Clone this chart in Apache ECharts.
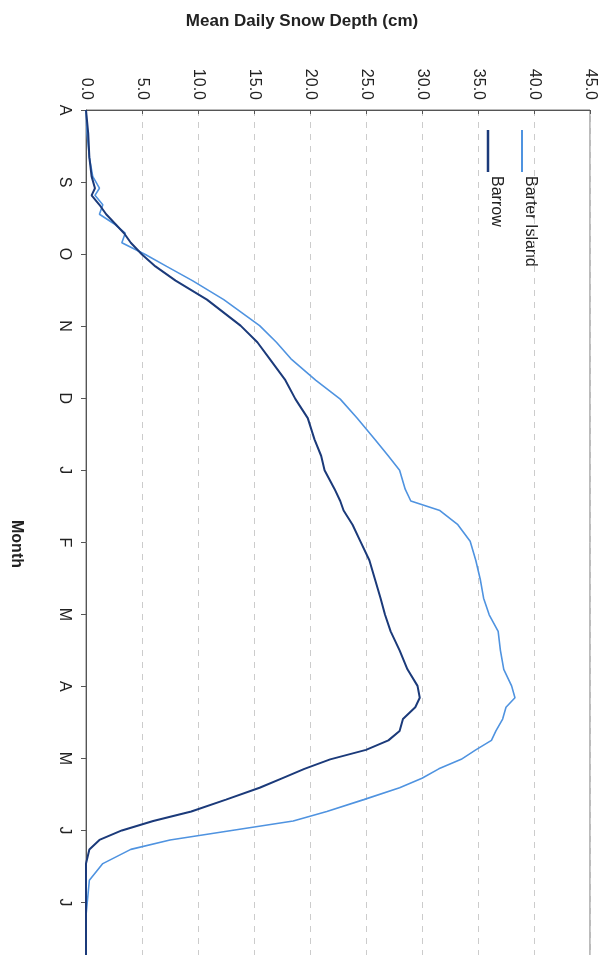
<!DOCTYPE html>
<html><head><meta charset="utf-8">
<script src="https://cdn.jsdelivr.net/npm/echarts@6/dist/echarts.min.js"></script>
<style>html,body{margin:0;padding:0;background:#fff;overflow:hidden;height:955px}#c{width:604px;height:1000px}</style>
</head><body><div id="c"></div>
<script>
const months = ['A','S','O','N','D','J','F','M','A','M','J','J'];
const valueTicks = ['0.0','5.0','10.0','15.0','20.0','25.0','30.0','35.0','40.0','45.0'];
// day of season (from Aug 1) , depth cm
const days = [0,10,20,28,33,36,40,44,48,52,56,61,66,72,80,91,98,105,114,122,130,139,146,152,160,165,169,175,182,190,198,206,213,220,228,236,243,248,252,257,262,266,270,274,278,282,286,291,296,300,304,308,312,318,325,340,365];
const barterIsland = [0,0.1,0.3,0.6,1.2,0.8,1.5,1.2,2.5,3.5,3.2,5.3,7.2,9.5,12.3,15.5,17,18.3,20.5,22.7,24.2,25.8,27,28,28.5,29,31.6,33.2,34.3,34.8,35.2,35.5,36,36.8,37,37.3,38,38.3,37.5,37.2,36.6,36.2,34.8,33.5,31.5,30,28,24.8,21.5,18.5,13,7.5,4,1.5,0.3,0,0];
const barrow = [0,0.2,0.3,0.5,0.8,0.5,1.2,1.8,2.6,3.4,4,5,6.2,8,10.8,13.8,15.3,16.4,17.8,18.7,19.8,20.4,21,21.3,22.2,22.7,23,23.8,24.5,25.3,25.8,26.3,26.7,27.2,28,28.7,29.6,29.8,29.4,28.3,28,27,25,21.8,19.5,17.5,15.5,12.5,9.4,6,3.2,1.2,0.3,0,0,0,0];
const pair = (v) => days.map((d,i)=>[v[i],d]);
const chart = echarts.init(document.getElementById('c'));
chart.setOption({
  animation:false,
  title:{text:'Mean Daily Snow Depth (cm)',left:'center',top:8,textStyle:{fontFamily:'Liberation Sans',fontSize:17,fontWeight:'bold',color:'#222'}},
  grid:{left:86,width:504,top:110,height:865,show:true,borderColor:'#777',borderWidth:1},
  xAxis:{type:'value',position:'top',min:0,max:45,interval:5,
    axisLine:{show:true,lineStyle:{color:'#555'}},axisTick:{show:true,length:4,inside:true,lineStyle:{color:'#555'}},
    axisLabel:{rotate:-90,formatter:(v)=>valueTicks[Math.round(v/5)],fontFamily:'Liberation Sans',fontSize:16,color:'#222',margin:10},
    splitLine:{show:true,lineStyle:{color:'#ccc',type:[6,6]}}},
  yAxis:{type:'value',inverse:true,min:0,max:365,interval:30.4,
    axisLine:{show:true,lineStyle:{color:'#555'}},axisTick:{show:true,length:5,lineStyle:{color:'#555'}},
    axisLabel:{rotate:-90,formatter:(v)=>months[Math.round(v/30.4)]||'',fontFamily:'Liberation Sans',fontSize:16,color:'#222',margin:14},
    splitLine:{show:false}},
  series:[
    {name:'Barter Island',type:'line',data:pair(barterIsland),showSymbol:false,lineStyle:{color:'#4f93e0',width:1.6}},
    {name:'Barrow',type:'line',data:pair(barrow),showSymbol:false,lineStyle:{color:'#1b3a7a',width:2}}
  ],
  graphic:[
    {type:'text',left:8,top:520,rotation:-Math.PI/2,style:{text:'Month',font:'bold 16px "Liberation Sans"',fill:'#222'}},
    {type:'line',shape:{x1:522,y1:130,x2:522,y2:172},style:{stroke:'#4f93e0',lineWidth:2}},
    {type:'text',x:530,y:176,rotation:-Math.PI/2,style:{text:'Barter Island',font:'16px "Liberation Sans"',fill:'#222',verticalAlign:'middle'}},
    {type:'line',shape:{x1:488,y1:130,x2:488,y2:172},style:{stroke:'#1b3a7a',lineWidth:2.5}},
    {type:'text',x:496,y:176,rotation:-Math.PI/2,style:{text:'Barrow',font:'16px "Liberation Sans"',fill:'#222',verticalAlign:'middle'}}
  ]
});
</script></body></html>
